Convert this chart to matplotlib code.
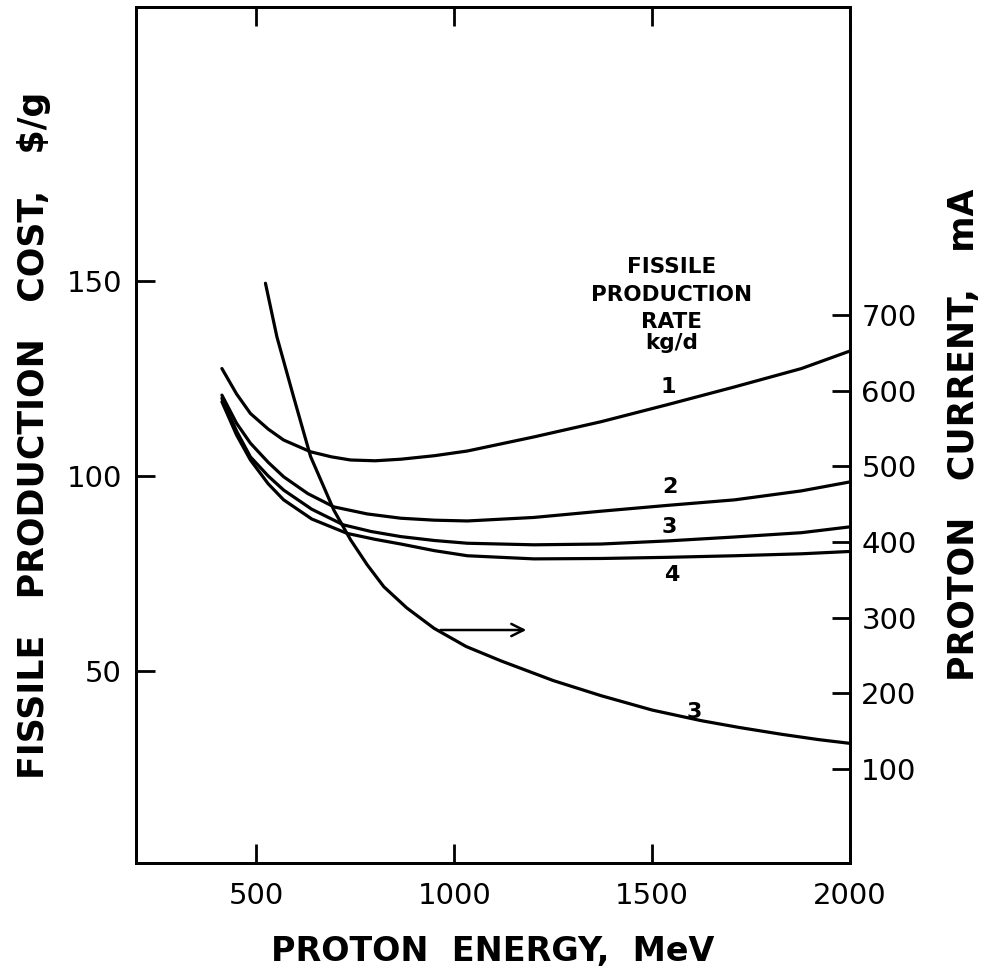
import matplotlib
matplotlib.use("Agg")
import matplotlib.pyplot as plt

# ---- data ----
# Fissile production cost ($/g) vs proton energy (MeV), for production rates 1..4 kg/d
e1 = [413, 450, 485, 530, 569, 637, 690, 738, 800, 865, 950, 1033, 1201, 1371, 1540, 1708, 1877, 2000]
c1 = [127.5, 121.0, 116.0, 112.0, 109.2, 106.2, 104.9, 104.1, 103.9, 104.3, 105.2, 106.4, 110.0, 113.9, 118.3, 122.8, 127.5, 132.0]

e2 = [413, 450, 485, 530, 569, 630, 696, 780, 865, 950, 1033, 1201, 1371, 1540, 1708, 1877, 2000]
c2 = [120.7, 113.5, 108.4, 103.5, 99.8, 95.5, 92.1, 90.3, 89.2, 88.7, 88.5, 89.4, 91.0, 92.5, 93.9, 96.2, 98.5]

e3 = [413, 450, 485, 530, 569, 640, 720, 790, 865, 950, 1033, 1201, 1371, 1540, 1708, 1877, 2000]
c3 = [119.9, 111.5, 104.9, 100.0, 96.4, 91.5, 87.5, 85.8, 84.5, 83.5, 82.8, 82.4, 82.6, 83.4, 84.4, 85.5, 87.0]

e4 = [413, 450, 485, 530, 569, 640, 730, 800, 865, 950, 1033, 1201, 1371, 1540, 1708, 1877, 2000]
c4 = [119.0, 110.5, 104.1, 98.0, 93.9, 89.0, 85.3, 83.8, 82.6, 80.9, 79.6, 78.8, 78.9, 79.2, 79.6, 80.1, 80.7]

# Proton current (mA) vs proton energy for 3 kg/d
e_cur = [523, 552, 594, 637, 696, 738, 780, 822, 880, 949, 1030, 1118, 1250, 1371, 1500, 1624, 1720, 1827, 1920, 2000]
i_cur = [742, 671, 592, 513, 442, 403, 370, 341, 313, 286, 262, 243, 217, 197, 178, 164, 155, 146, 139, 134]

rate_labels = ["1", "2", "3", "4"]
x_ticks = [500, 1000, 1500, 2000]
y_ticks = [50, 100, 150]
y2_ticks = [100, 200, 300, 400, 500, 600, 700]

# ---- figure ----
fig = plt.figure(figsize=(10.03, 9.73), dpi=100)
ax = fig.add_axes([0.1356, 0.1131, 0.712, 0.8797])
ax2 = ax.twinx()

lw = 2.3
for e, c in [(e1, c1), (e2, c2), (e3, c3), (e4, c4)]:
    ax.plot(e, c, color="black", lw=lw, solid_capstyle="round", solid_joinstyle="round")
ax2.plot(e_cur, i_cur, color="black", lw=lw, solid_capstyle="round", solid_joinstyle="round")

ax.set_xlim(196, 2000)
ax.set_ylim(1, 220)
ax2.set_ylim(-24, 1107)

tick_font = dict(family="DejaVu Sans", size=21)
ax.set_xticks(x_ticks)
ax.set_xticklabels([str(v) for v in x_ticks], **tick_font)
ax.set_yticks(y_ticks)
ax.set_yticklabels([str(v) for v in y_ticks], **tick_font)
ax2.set_yticks(y2_ticks)
ax2.set_yticklabels([str(v) for v in y2_ticks], **tick_font)

ax.tick_params(axis="x", direction="in", length=14, width=2, pad=14, top=True)
ax.tick_params(axis="y", direction="in", length=14, width=2, pad=10)
ax2.tick_params(axis="y", direction="in", length=13, width=2, pad=8)
for a in (ax, ax2):
    for s in a.spines.values():
        s.set_linewidth(2.0)

ax.set_xlabel("PROTON  ENERGY,  MeV", fontsize=24, fontweight="bold", labelpad=18)
ax.set_ylabel("FISSILE   PRODUCTION   COST,   $/g", fontsize=25, fontweight="bold", labelpad=11)
ax2.set_ylabel("PROTON   CURRENT,   mA", fontsize=25, fontweight="bold", labelpad=22)

# legend title block
title_lines = ["FISSILE", "PRODUCTION", "RATE", "kg/d"]
title_y = [153.5, 146.3, 139.5, 134.0]
for t, yv in zip(title_lines, title_y):
    ax.text(1548, yv, t, ha="center", va="center", fontsize=15.5, fontweight="bold")

lab_x = [1540, 1544, 1544, 1550]
lab_y = [122.8, 97.3, 86.9, 74.7]
for t, xv, yv in zip(rate_labels, lab_x, lab_y):
    ax.text(xv, yv, t, ha="center", va="center", fontsize=16, fontweight="bold")

ax.text(1606, 39.6, "3", ha="center", va="center", fontsize=16, fontweight="bold")

ax.annotate("", xy=(1189, 60.6), xytext=(958, 60.6),
            arrowprops=dict(arrowstyle="->", lw=1.8, color="black", mutation_scale=22))

fig.savefig("out.png", dpi=100)
